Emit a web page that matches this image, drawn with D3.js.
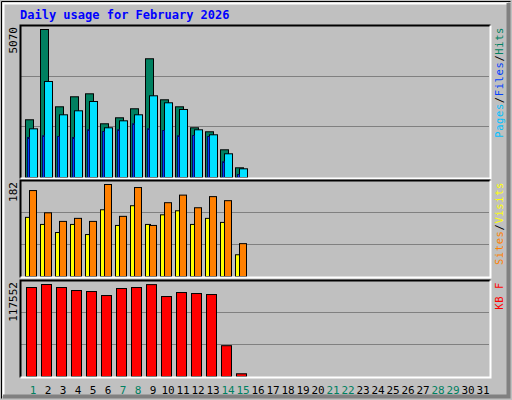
<!DOCTYPE html>
<html><head><meta charset="utf-8">
<script src="https://cdn.jsdelivr.net/npm/d3@7"></script>
<style>body{margin:0;background:#fff}</style>
</head><body><svg id="c" width="512" height="400"></svg>
<script>
// values, days 1..15 of February 2026
const days = d3.range(1, 32);
const weekendDays = [1, 7, 8, 14, 15, 21, 22, 28, 29];
const hits = [1977, 5070, 2422, 2765, 2867, 1840, 2045, 2354, 4067, 2662, 2422, 1703, 1566, 949, 332];
const files = [1668, 3289, 2148, 2285, 2604, 1703, 1942, 2148, 2799, 2559, 2330, 1634, 1463, 812, 298];
const pages = [1370, 1429, 1405, 1370, 1634, 1576, 1634, 1840, 1668, 1610, 1429, 1439, 1405, 538, 103];
const visits = [170, 126, 109, 115, 109, 182, 119, 176, 101, 146, 161, 136, 158, 150, 65];
const sites = [117, 103, 87, 103, 83, 132, 101, 140, 103, 122, 130, 103, 115, 107, 43];
const kbytes = [113700, 117552, 113700, 109870, 108580, 103450, 112430, 113700, 117400, 102170, 107300, 106020, 104740, 39360, 3460];

const svg = d3.select('#c');
const font = 'DejaVu Sans Mono, monospace';

// beveled outer box
svg.append('rect').attr('width', 512).attr('height', 400).attr('fill', '#c0c0c0');
svg.append('path').attr('d', 'M1.5,398.5V1.5H510.5').attr('stroke', '#000').attr('fill', 'none');
svg.append('path').attr('d', 'M3.5,396V3.5H508').attr('stroke', '#fff').attr('stroke-width', 2).attr('fill', 'none');
svg.append('path').attr('d', 'M3,396.5H508.5V3').attr('stroke', '#808080').attr('stroke-width', 4).attr('fill', 'none');

svg.append('text').attr('x', 20).attr('y', 19).text('Daily usage for February 2026')
    .attr('font-family', font).attr('font-weight', 'bold').attr('font-size', 12).attr('fill', '#0000ff');

const x = d3.scaleLinear().domain([1, 32]).range([25, 25 + 15 * 31]);

function panel(top, bottom, max, series, label, legend) {
    const y = d3.scaleLinear().domain([0, max]).range([bottom, bottom - (bottom - top - 4)]);
    const g = svg.append('g');
    [1 / 3, 2 / 3].forEach(f => {
        const yy = Math.round(bottom - (bottom - top) * f) + 0.5;
        g.append('line').attr('x1', 21).attr('x2', 489).attr('y1', yy).attr('y2', yy)
            .attr('stroke', '#808080');
    });
    series.forEach(s => {
        g.selectAll(null).data(s.values).enter().append('rect')
            .attr('x', (d, i) => x(i + 1) + s.dx + 0.5)
            .attr('y', d => y(d) + 0.5)
            .attr('width', s.w)
            .attr('height', d => bottom - y(d))
            .attr('fill', s.color).attr('stroke', s.stroke || '#000');
    });
    g.append('path').attr('d', `M20.5,${bottom + 1.5}V${top + 0.5}H490.5`).attr('stroke', '#000').attr('stroke-width', 2).attr('fill', 'none');
    g.append('path').attr('d', `M20.5,${bottom + 1.5}H490.5V${top + 0.5}`).attr('stroke', '#fff').attr('stroke-width', 2).attr('fill', 'none');
    g.append('text').attr('transform', `translate(17,${top + 2}) rotate(-90)`)
        .attr('text-anchor', 'end').attr('font-family', font).attr('font-size', 11).text(label);
    const t = g.append('text').attr('transform', `translate(503,${top + 2}) rotate(-90)`)
        .attr('text-anchor', 'end').attr('font-family', font).attr('font-size', 10.5)
        .attr('letter-spacing', 0.6);
    legend.forEach((l, i) => {
        if (i > 0) t.append('tspan').attr('fill', '#000').text('/');
        t.append('tspan').attr('fill', l[1]).text(l[0]);
    });
}

panel(25, 177, 5070, [
    { values: hits, color: '#008060', dx: 0, w: 8 },
    { values: files, color: '#00e0ff', dx: 4, w: 8 },
    { values: pages, color: '#0040ff', dx: 2, w: 2, stroke: '#001060' }
], '5070', [['Pages', '#00c0ff'], ['Files', '#0040ff'], ['Hits', '#008060']]);

panel(180, 276, 182, [
    { values: sites, color: '#ffff00', dx: 0, w: 5 },
    { values: visits, color: '#ff8000', dx: 4, w: 7 }
], '182', [['Sites', '#ff8000'], ['Visits', '#ffff00']]);

panel(280, 376, 117552, [
    { values: kbytes, color: '#ff0000', dx: 1, w: 10 }
], '117552', [['KB F', '#ff0000']]);

svg.selectAll('.day').data(days).enter().append('text')
    .attr('x', d => x(d) + 8).attr('y', 394).attr('text-anchor', 'middle')
    .attr('font-family', font).attr('font-size', 11)
    .attr('fill', d => weekendDays.includes(d) ? '#008060' : '#000')
    .text(d => d);
</script></body></html>
